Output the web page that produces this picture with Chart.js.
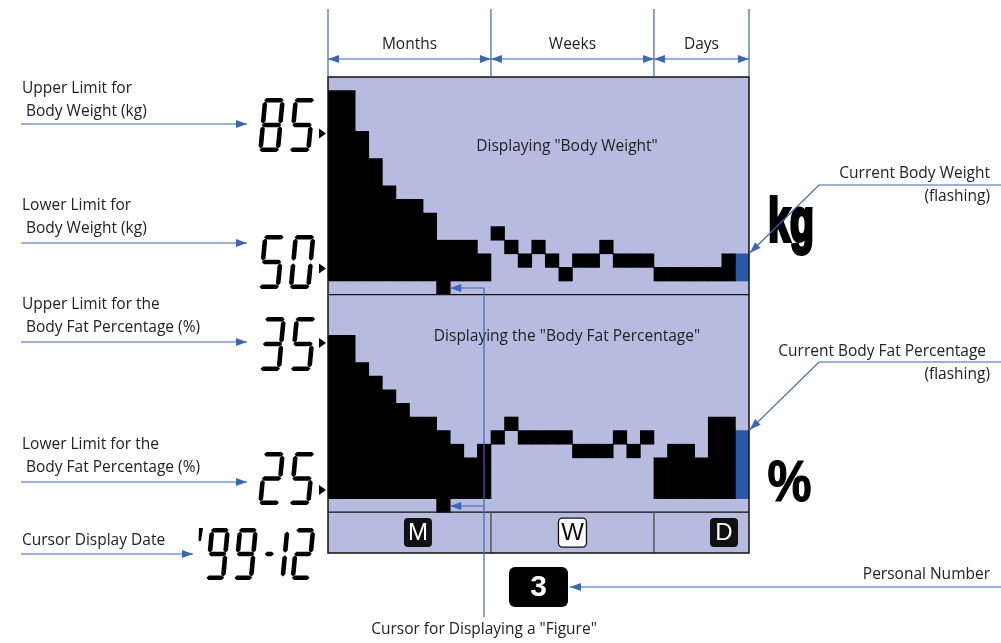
<!DOCTYPE html>
<html>
<head>
<meta charset="utf-8">
<script src="https://cdn.jsdelivr.net/npm/chart.js@4.4.1/dist/chart.umd.min.js"></script>
<style>
  html, body { margin: 0; padding: 0; background: #fff; }
  #lcd { display: block; }
</style>
</head>
<body>
<canvas id="lcd" width="1001" height="643"></canvas>
<script>
'use strict';

/* ---------- data (LCD segment levels) ---------- */
const sections = ['Months', 'Weeks', 'Days'];
const sectionIcons = ['M', 'W', 'D'];
const weightMonths = [14, 14, 11, 9, 7, 6, 6, 5, 3, 3, 3, 2];
const weightWeeks  = [4, 3, 2, 3, 2, 1, 2, 2, 3, 2, 2, 2];
const weightDays   = [1, 1, 1, 1, 1, 2];
const weightNow    = 2;
const fatMonths    = [12, 12, 10, 9, 8, 7, 6, 6, 5, 4, 3, 4];
const fatWeeks     = [5, 6, 5, 5, 5, 5, 4, 4, 4, 5, 4, 5];
const fatDays      = [3, 4, 4, 3, 6, 6];
const fatNow       = 5;
const cursorIndex  = 8;
const weightLimits = ['85', '50'];
const fatLimits    = ['35', '25'];
const cursorDate   = "'99-12";
const personalNo   = '3';

/* ---------- layout of the segment grid ---------- */
const ROWS_PANEL = 16;                 // rows per panel (incl. cursor row)
const ROWS_STRIP = 3;                  // M / W / D strip
const FAT_BASE = ROWS_STRIP + 1;       // first bar row of the fat panel
const WEIGHT_BASE = ROWS_STRIP + ROWS_PANEL + 1;
const Y_MAX = ROWS_STRIP + ROWS_PANEL * 2;

const nMonths = weightMonths.length;
const nWeeks = weightWeeks.length;
const nDays = weightDays.length + 1;
const nCols = nMonths + nWeeks + nDays;
const labels = Array.from({ length: nCols }, (_, i) => 'c' + i);

const LAV = '#b8bbe0';
const BLUE = '#3a66b6';
const BLUE_BAR = '#2b58a8';
const INK = '#222';
const TXT = '15.5px "Open Sans", "Noto Sans", sans-serif';

function blank() { return new Array(nCols).fill(null); }
function filled(levels, offset, base, arr) {
  levels.forEach((lv, i) => { arr[offset + i] = [base, base + lv]; });
  return arr;
}
function dots(levels, offset, base, arr) {
  levels.forEach((lv, i) => { arr[offset + i] = [base + lv - 1, base + lv]; });
  return arr;
}

const wBlack = blank();
filled(weightMonths, 0, WEIGHT_BASE, wBlack);
dots(weightWeeks, nMonths, WEIGHT_BASE, wBlack);
filled(weightDays, nMonths + nWeeks, WEIGHT_BASE, wBlack);
const fBlack = blank();
filled(fatMonths, 0, FAT_BASE, fBlack);
dots(fatWeeks, nMonths, FAT_BASE, fBlack);
filled(fatDays, nMonths + nWeeks, FAT_BASE, fBlack);

const wNow = blank(); wNow[nCols - 1] = [WEIGHT_BASE, WEIGHT_BASE + weightNow];
const fNow = blank(); fNow[nCols - 1] = [FAT_BASE, FAT_BASE + fatNow];

const cursor = blank();
const cursorFat = blank();
cursor[cursorIndex] = [WEIGHT_BASE - 1, WEIGHT_BASE];
cursorFat[cursorIndex] = [FAT_BASE - 1, FAT_BASE];

const barDefaults = { barPercentage: 1, categoryPercentage: 1, borderWidth: 0, borderSkipped: false };

/* ---------- drawing helpers ---------- */
function arrowHead(ctx, x1, y1, x2, y2, len = 11, half = 4) {
  const a = Math.atan2(y2 - y1, x2 - x1);
  ctx.beginPath();
  ctx.moveTo(x2, y2);
  ctx.lineTo(x2 - len * Math.cos(a) + half * Math.sin(a), y2 - len * Math.sin(a) - half * Math.cos(a));
  ctx.lineTo(x2 - len * Math.cos(a) - half * Math.sin(a), y2 - len * Math.sin(a) + half * Math.cos(a));
  ctx.closePath();
  ctx.fill();
}
function arrowPath(ctx, pts) {
  ctx.strokeStyle = BLUE; ctx.fillStyle = BLUE; ctx.lineWidth = 1.2;
  ctx.beginPath();
  pts.forEach(([x, y], i) => i ? ctx.lineTo(x, y) : ctx.moveTo(x, y));
  ctx.stroke();
  const n = pts.length;
  arrowHead(ctx, pts[n - 2][0], pts[n - 2][1], pts[n - 1][0], pts[n - 1][1]);
}
function text(ctx, str, x, y, align = 'left', font = TXT, color = INK) {
  ctx.font = font; ctx.fillStyle = color; ctx.textAlign = align; ctx.textBaseline = 'middle';
  ctx.fillText(str, x, y);
}
// heavy condensed unit text: squeeze horizontally, then fatten with a stroke
function fitText(ctx, str, x, baseline, width, font, weight) {
  ctx.save();
  ctx.font = font; ctx.fillStyle = '#000'; ctx.strokeStyle = '#000';
  ctx.textAlign = 'left'; ctx.textBaseline = 'alphabetic';
  const k = (width - weight) / ctx.measureText(str).width;
  ctx.translate(x + weight / 2, baseline);
  ctx.scale(k, 1);
  ctx.fillText(str, 0, 0);
  if (weight > 0) {
    ctx.lineWidth = weight / k;
    ctx.lineJoin = 'miter';
    ctx.strokeText(str, 0, 0);
  }
  ctx.restore();
}
function roundRect(ctx, x, y, w, h, r) {
  ctx.beginPath();
  ctx.roundRect(x, y, w, h, r);
}

// seven-segment digits, slanted like the LCD
const SEGS = { '0': 'abcdef', '1': 'bc', '2': 'abged', '3': 'abgcd', '4': 'fgbc', '5': 'afgcd',
  '6': 'afgedc', '7': 'abc', '8': 'abcdefg', '9': 'abcdfg', '-': 'g' };
function drawDigit(ctx, ch, x, top, w, h, t, sk) {
  const g = 1.2, m = h / 2;
  const hz = (x1, x2, yc) => [[x1, yc], [x1 + t / 2, yc - t / 2], [x2 - t / 2, yc - t / 2], [x2, yc], [x2 - t / 2, yc + t / 2], [x1 + t / 2, yc + t / 2]];
  const vt = (xc, y1, y2) => [[xc, y1], [xc + t / 2, y1 + t / 2], [xc + t / 2, y2 - t / 2], [xc, y2], [xc - t / 2, y2 - t / 2], [xc - t / 2, y1 + t / 2]];
  const shapes = {
    a: hz(g, w - g, t / 2), d: hz(g, w - g, h - t / 2), g: hz(g, w - g, m),
    f: vt(t / 2, g + t / 2, m - g), b: vt(w - t / 2, g + t / 2, m - g),
    e: vt(t / 2, m + g, h - g - t / 2), c: vt(w - t / 2, m + g, h - g - t / 2)
  };
  ctx.fillStyle = '#000';
  for (const s of SEGS[ch] || '') {
    ctx.beginPath();
    shapes[s].forEach(([px, py], i) => {
      const X = x + px + (h - py) * sk, Y = top + py;
      i ? ctx.lineTo(X, Y) : ctx.moveTo(X, Y);
    });
    ctx.closePath();
    ctx.fill();
  }
}
function drawLcd(ctx, str, x, top, h, pitch) {
  const w = pitch * 0.72, t = 4.6, sk = 0.095;
  for (const ch of str) {
    if (ch === "'") {
      ctx.fillStyle = '#000';
      ctx.beginPath();
      ctx.moveTo(x + 2, top); ctx.lineTo(x + 6, top); ctx.lineTo(x + 4, top + 13); ctx.lineTo(x + 1.5, top + 13);
      ctx.closePath(); ctx.fill();
      x += 8;
    } else if (ch === '-') {
      drawDigit(ctx, ch, x, top, pitch * 0.42, h, t, sk); x += pitch * 0.55;
    } else if (ch === '1') {
      drawDigit(ctx, ch, x, top, pitch * 0.3, h, t, sk); x += pitch * 0.5;
    } else {
      drawDigit(ctx, ch, x, top, w, h, t, sk); x += pitch;
    }
  }
}
function pointer(ctx, x, yc) {
  ctx.fillStyle = '#000';
  ctx.beginPath();
  ctx.moveTo(x, yc - 5); ctx.lineTo(x + 7, yc); ctx.lineTo(x, yc + 5);
  ctx.closePath(); ctx.fill();
}

/* ---------- plugin: LCD frame, panel text, call-outs ---------- */
const lcdPlugin = {
  id: 'lcdFrame',
  beforeDatasetsDraw(chart) {
    const { ctx, chartArea: a } = chart;
    ctx.save();
    ctx.fillStyle = LAV;
    ctx.fillRect(a.left, a.top, a.right - a.left, a.bottom - a.top);
    ctx.restore();
  },
  afterDatasetsDraw(chart) {
    const { ctx, chartArea: a, scales: { x, y } } = chart;
    const half = (x.getPixelForValue(1) - x.getPixelForValue(0)) / 2;
    const bx1 = x.getPixelForValue(nMonths - 1) + half;
    const bx2 = x.getPixelForValue(nMonths + nWeeks - 1) + half;
    const yMid = y.getPixelForValue(ROWS_STRIP + ROWS_PANEL);
    const yStrip = y.getPixelForValue(ROWS_STRIP);
    ctx.save();

    // panel rules and frame
    ctx.strokeStyle = '#111'; ctx.lineWidth = 1.3;
    ctx.beginPath();
    ctx.moveTo(a.left, yMid); ctx.lineTo(a.right, yMid);
    ctx.moveTo(a.left, yStrip); ctx.lineTo(a.right, yStrip);
    ctx.stroke();
    ctx.strokeStyle = '#555'; ctx.lineWidth = 1.5;
    ctx.beginPath();
    ctx.moveTo(bx1, yStrip); ctx.lineTo(bx1, a.bottom);
    ctx.moveTo(bx2, yStrip); ctx.lineTo(bx2, a.bottom);
    ctx.stroke();
    ctx.strokeStyle = '#111'; ctx.lineWidth = 1.5;
    ctx.strokeRect(a.left, a.top, a.right - a.left, a.bottom - a.top);

    // M / W / D icons
    const icoY = (yStrip + a.bottom) / 2;
    const icoX = [bx1 - 73, (bx1 + bx2) / 2, a.right - 25];
    sectionIcons.forEach((s, i) => {
      const inv = s === 'W';
      roundRect(ctx, icoX[i] - 14, icoY - 14.5, 28, 29, 4);
      ctx.fillStyle = inv ? '#fff' : '#111';
      ctx.fill();
      if (inv) { ctx.strokeStyle = '#111'; ctx.lineWidth = 1.3; ctx.stroke(); }
      text(ctx, s, icoX[i], icoY + 1, 'center', '24px "Liberation Sans", Arial, sans-serif', inv ? '#111' : '#fff');
    });

    // panel captions
    text(ctx, 'Displaying "Body Weight"', 567, 147, 'center');
    text(ctx, 'Displaying the "Body Fat Percentage"', 567, 337, 'center');

    // section dimension lines
    const xs = [a.left, bx1, bx2, a.right];
    ctx.strokeStyle = BLUE; ctx.lineWidth = 1.2;
    ctx.beginPath();
    xs.forEach(v => { ctx.moveTo(v, 9); ctx.lineTo(v, a.top); });
    ctx.stroke();
    sections.forEach((s, i) => {
      const l = xs[i], r = xs[i + 1];
      ctx.strokeStyle = BLUE; ctx.fillStyle = BLUE;
      ctx.beginPath(); ctx.moveTo(l, 59); ctx.lineTo(r, 59); ctx.stroke();
      arrowHead(ctx, r, 59, l, 59);
      arrowHead(ctx, l, 59, r, 59);
      text(ctx, s, (l + r) / 2, 45, 'center');
    });

    // cursor call-out
    const cx = x.getPixelForValue(cursorIndex) + half;
    const cLine = 484;
    arrowPath(ctx, [[cLine, 617], [cLine, 288], [cx, 288]]);
    arrowPath(ctx, [[cLine, 506], [cx, 506]]);
    text(ctx, 'Cursor for Displaying a "Figure"', 484, 630, 'center');

    // left call-outs and LCD readouts
    const left = [
      ['Upper Limit for', 'Body Weight (kg)', 89, 124],
      ['Lower Limit for', 'Body Weight (kg)', 206, 243],
      ['Upper Limit for the', 'Body Fat Percentage (%)', 305, 342],
      ['Lower Limit for the', 'Body Fat Percentage (%)', 445, 482]
    ];
    left.forEach(([l1, l2, ty, ay]) => {
      text(ctx, l1, 22, ty);
      text(ctx, l2, 26, ty + 23);
      arrowPath(ctx, [[21, ay], [247, ay]]);
    });
    text(ctx, 'Cursor Display Date', 22, 541);
    arrowPath(ctx, [[21, 554], [193, 554]]);

    drawLcd(ctx, weightLimits[0], 258, 98, 54, 30.5);
    drawLcd(ctx, weightLimits[1], 258, 235, 54, 30.5);
    drawLcd(ctx, fatLimits[0], 259, 317, 54, 30.5);
    drawLcd(ctx, fatLimits[1], 258, 452, 53, 30.5);
    drawLcd(ctx, cursorDate, 197, 528, 52, 28);
    pointer(ctx, 319, y.getPixelForValue(WEIGHT_BASE + 11) + 2);
    pointer(ctx, 319, y.getPixelForValue(WEIGHT_BASE + 1) + 1);
    pointer(ctx, 319, y.getPixelForValue(FAT_BASE + 11) - 6);
    pointer(ctx, 319, y.getPixelForValue(FAT_BASE + 1) + 5);

    // right call-outs
    fitText(ctx, 'kg', 767, 240.5, 48, 'bold 61px "Liberation Sans", Arial, sans-serif', 2.5);
    fitText(ctx, '%', 767, 501, 45, 'bold 57px "Liberation Sans", Arial, sans-serif', 1);
    text(ctx, 'Current Body Weight', 990, 174, 'right');
    text(ctx, '(flashing)', 990, 197, 'right');
    arrowPath(ctx, [[1001, 185], [819, 185], [a.right + 1, y.getPixelForValue(WEIGHT_BASE + weightNow) - 1]]);
    text(ctx, 'Current Body Fat Percentage', 986, 352, 'right');
    text(ctx, '(flashing)', 990, 375, 'right');
    arrowPath(ctx, [[1001, 362], [819, 362], [a.right + 1, y.getPixelForValue(FAT_BASE + fatNow) - 1]]);

    // personal number
    roundRect(ctx, 509, 567, 59, 40, 6);
    ctx.fillStyle = '#000'; ctx.fill();
    text(ctx, personalNo, 538.5, 588, 'center', 'bold 30px "Liberation Sans", Arial, sans-serif', '#fff');
    text(ctx, 'Personal Number', 990, 575, 'right');
    arrowPath(ctx, [[1001, 587], [570, 587]]);

    ctx.restore();
  }
};

new Chart(document.getElementById('lcd'), {
  type: 'bar',
  data: {
    labels,
    datasets: [
      { data: wBlack, backgroundColor: '#000', ...barDefaults },
      { data: fBlack, backgroundColor: '#000', ...barDefaults },
      { data: wNow, backgroundColor: BLUE_BAR, ...barDefaults },
      { data: fNow, backgroundColor: BLUE_BAR, ...barDefaults },
      { data: cursor, backgroundColor: '#000', ...barDefaults },
      { data: cursorFat, backgroundColor: '#000', ...barDefaults }
    ]
  },
  options: {
    responsive: false,
    animation: false,
    devicePixelRatio: 1,
    layout: { padding: { left: 328, right: 252, top: 77, bottom: 90 } },
    datasets: { bar: { grouped: false } },
    plugins: { legend: { display: false }, tooltip: { enabled: false } },
    scales: {
      x: { display: false, offset: true, grid: { display: false } },
      y: { display: false, min: 0, max: Y_MAX, grid: { display: false } }
    }
  },
  plugins: [lcdPlugin]
});
</script>
</body>
</html>
